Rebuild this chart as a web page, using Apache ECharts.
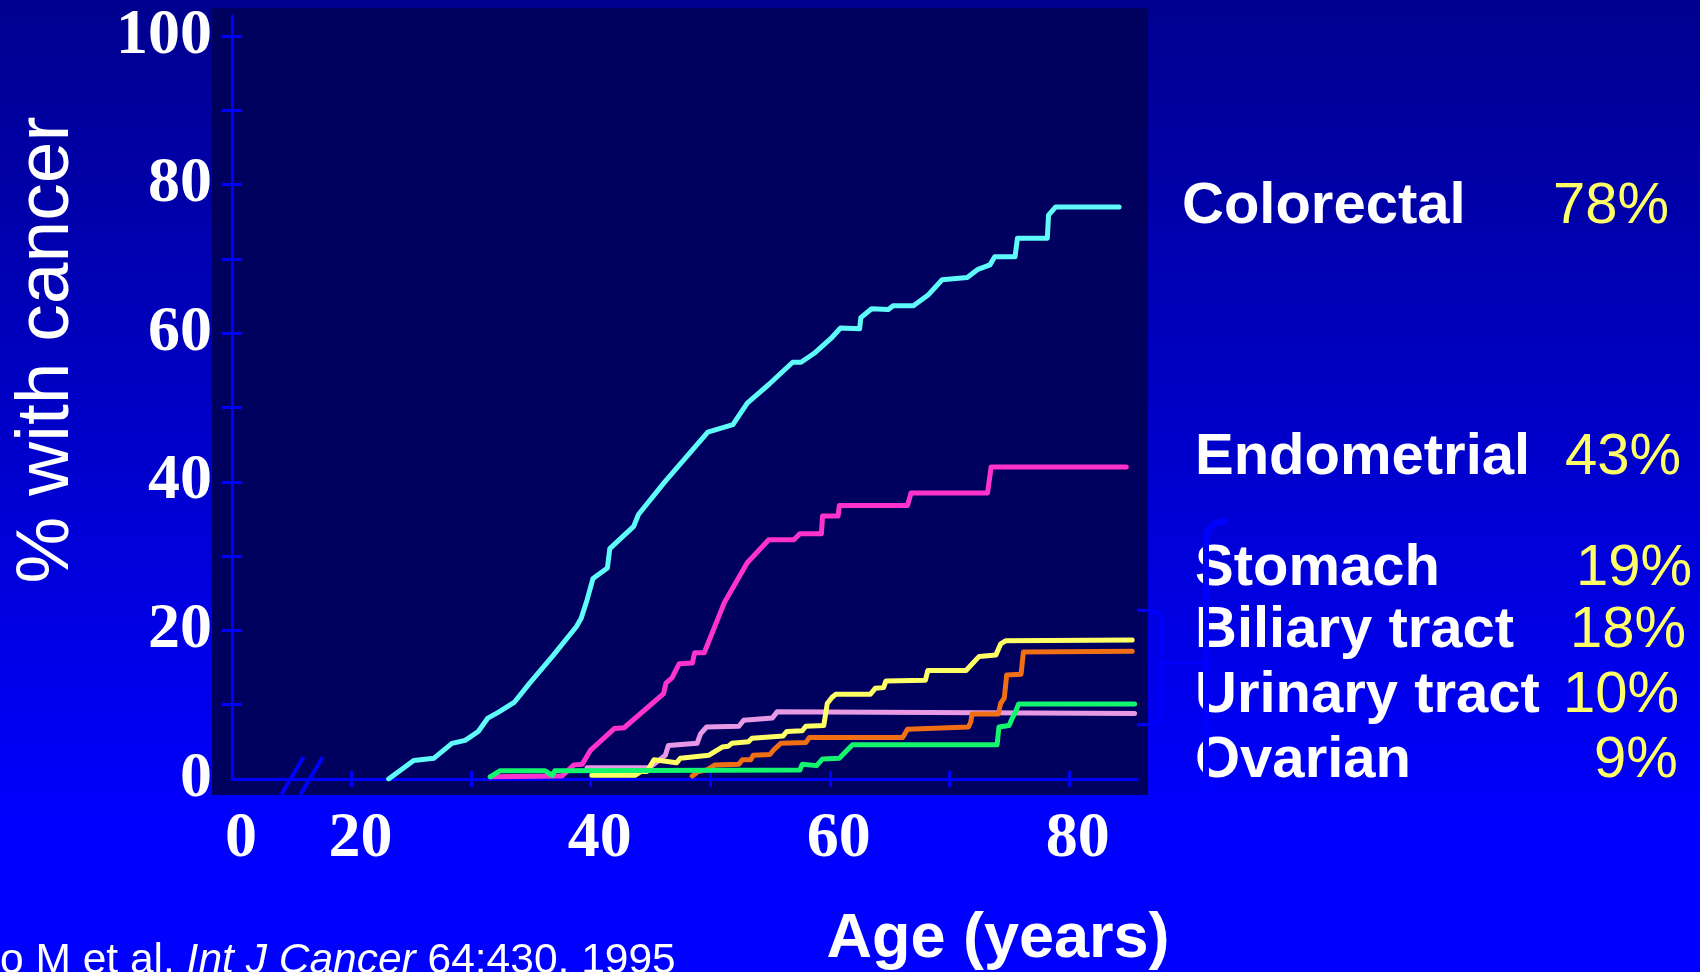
<!DOCTYPE html>
<html>
<head>
<meta charset="utf-8">
<title>Cumulative cancer risk by age</title>
<script src="https://cdn.jsdelivr.net/npm/echarts@6/dist/echarts.min.js"></script>
<style>
html, body { margin: 0; padding: 0; }
#main { width: 1700px; height: 972px; }
</style>
</head>
<body>
<div id="main"></div>
<script>
// [age (years), % with cancer]
var colorectal = [[23.1,0],[25.2,2.5],[26.9,2.8],[28.4,4.8],[29.5,5.2],[30.6,6.4],[31.4,8.2],[32.3,9.0],[33.6,10.3],[34.9,12.9],[36.8,16.5],[38.8,20.5],[39.2,21.6],[39.7,24.1],[40.2,27.0],[41.4,28.4],[41.6,31.0],[43.6,34.0],[44.0,35.6],[46.2,40.0],[48.3,43.9],[49.8,46.7],[51.9,47.7],[53.1,50.6],[54.9,53.1],[56.9,56.1],[57.6,56.1],[58.7,57.3],[60.1,59.3],[60.9,60.7],[62.5,60.6],[62.6,62.1],[63.5,63.3],[64.9,63.2],[65.3,63.7],[67.0,63.7],[68.2,65.1],[69.4,67.2],[71.5,67.5],[72.4,68.6],[73.4,69.2],[73.8,70.3],[75.5,70.3],[75.7,72.8],[78.2,72.8],[78.3,75.9],[78.9,77.0],[84.2,77.0]];
var endometrial = [[31.6,0.3],[37.6,0.4],[38.0,1.0],[38.6,1.9],[39.3,2.0],[40.0,3.9],[42.0,6.8],[42.8,6.9],[46.1,11.5],[46.3,12.9],[46.8,13.6],[47.4,15.5],[48.5,15.6],[48.7,17.0],[49.5,17.0],[51.2,23.8],[53.1,29.1],[54.9,32.2],[57.0,32.2],[57.5,33.0],[59.3,33.0],[59.4,35.4],[60.7,35.4],[60.8,36.8],[66.5,36.8],[66.8,38.5],[73.2,38.5],[73.5,42.0],[84.8,42.0]];
var stomach = [[40.1,0.5],[43.7,0.5],[44.2,1.0],[44.7,1.0],[45.3,2.6],[47.2,2.2],[47.5,2.8],[49.9,3.2],[51.0,4.3],[51.5,4.4],[51.8,4.8],[53.2,5.0],[53.5,5.5],[56.1,5.8],[56.4,6.4],[57.7,6.5],[58.0,7.1],[59.5,7.2],[59.8,10.2],[60.2,11.0],[60.5,11.4],[63.4,11.4],[63.8,12.2],[64.5,12.3],[64.7,13.2],[68.0,13.3],[68.2,14.6],[71.4,14.6],[72.5,16.5],[73.9,16.7],[74.3,18.2],[74.7,18.6],[85.3,18.7]];
var biliary = [[48.5,0.4],[49.0,1.0],[49.7,1.2],[50.4,1.9],[52.4,2.0],[52.7,2.6],[53.4,2.6],[53.6,3.2],[55.0,3.3],[55.3,3.9],[55.9,4.8],[58.0,4.9],[58.3,5.6],[66.1,5.6],[66.5,6.7],[71.6,7.0],[71.8,7.7],[71.9,8.75],[74.1,8.75],[74.3,10.2],[74.6,10.9],[74.8,14.0],[76.0,14.1],[76.2,17.1],[85.3,17.2]];
var urinary = [[31.6,0.3],[32.4,1.1],[36.2,1.1],[36.8,0.5],[37.0,1.1],[57.5,1.2],[57.7,2.0],[58.9,1.8],[59.4,2.7],[60.8,2.8],[61.9,4.6],[74.0,4.6],[74.15,7.0],[75.0,7.2],[75.3,8.3],[75.5,8.9],[75.8,10.1],[85.5,10.1]];
var ovarian = [[39.7,1.5],[44.9,1.5],[46.25,3.2],[46.5,4.5],[48.9,4.8],[49.2,6.1],[49.7,7.0],[52.4,7.1],[52.8,7.9],[55.2,8.2],[55.6,9.06],[85.5,8.8]];

var cancerNames = ['Colorectal', 'Endometrial', 'Stomach', 'Biliary tract', 'Urinary tract', 'Ovarian'];
var cancerRisk = ['78%', '43%', '19%', '18%', '10%', '9%'];

var xTickValues = [20, 30, 40, 50, 60, 70, 80];
var xLabelValues = [10, 20, 40, 60, 80];   // 10 is the broken-axis start, labelled "0"
var yTickValues = [10, 20, 30, 40, 50, 60, 70, 80, 90, 100];
var yLabelValues = [0, 20, 40, 60, 80, 100];
var axisBreakAges = [14.9, 16.5];

// layout of the side labels (pixels)
var nameX = [1182, 1195, 1195, 1195, 1195, 1195];
var riskX = [1553, 1565, 1576, 1570, 1563, 1594];
var rowBaseline = [227, 478, 589, 651, 716, 781];

var axisBlue = '#0000ff';
var numFont = '"Liberation Serif", "Times New Roman", serif';
var sansFont = '"Liberation Sans", Arial, sans-serif';

var chart = echarts.init(document.getElementById('main'));

function lineSeries(name, data, color) {
	return {
		name: name,
		type: 'line',
		data: data,
		showSymbol: false,
		symbol: 'none',
		silent: true,
		lineStyle: { width: 5, color: color, cap: 'round', join: 'round' },
		z: 3
	};
}

var graphics = [];
// slide background
graphics.push({
	type: 'rect', z: -20, silent: true,
	shape: { x: 0, y: 0, width: 1700, height: 972 },
	style: { fill: new echarts.graphic.LinearGradient(0, 0, 0, 1, [
		{ offset: 0, color: '#00008e' },
		{ offset: 0.85, color: '#0000ff' },
		{ offset: 1, color: '#0000ff' }
	]) }
});
// dark plot panel
graphics.push({
	type: 'rect', z: -10, silent: true,
	shape: { x: 212, y: 8, width: 936, height: 787 },
	style: { fill: '#00005f' }
});
// y axis title
graphics.push({
	type: 'text', x: 47, y: 350, rotation: Math.PI / 2, z: 50,
	style: { text: '% with cancer', fill: '#fff', font: '75px ' + sansFont,
		align: 'center', verticalAlign: 'middle', textAlign: 'center', textVerticalAlign: 'middle' }
});
// x axis title
graphics.push({
	type: 'text', x: 998, y: 940, z: 50,
	style: { text: 'Age (years)', fill: '#fff', font: 'bold 63px ' + sansFont,
		align: 'center', verticalAlign: 'middle', textAlign: 'center', textVerticalAlign: 'middle' }
});
// citation (runs off the left edge as in the slide)
graphics.push({
	type: 'text', x: 0, y: 961, z: 50,
	style: {
		text: '{n|o M et al. }{i|Int J Cancer}{n| 64:430, 1995}',
		align: 'left', verticalAlign: 'middle', textAlign: 'left', textVerticalAlign: 'middle',
		rich: {
			n: { fontSize: 42.5, fontFamily: sansFont, fill: '#fff', color: '#fff' },
			i: { fontSize: 42.5, fontFamily: sansFont, fontStyle: 'italic', fill: '#fff', color: '#fff' }
		}
	}
});
// side labels
for (var i = 0; i < cancerNames.length; i++) {
	var midY = rowBaseline[i] - 20;
	graphics.push({
		type: 'text', x: nameX[i], y: midY, z: 50,
		style: { text: cancerNames[i], fill: '#fff', font: 'bold 58px ' + sansFont,
			align: 'left', verticalAlign: 'middle', textAlign: 'left', textVerticalAlign: 'middle' }
	});
	graphics.push({
		type: 'text', x: riskX[i], y: midY, z: 50,
		style: { text: cancerRisk[i], fill: '#ffff66', font: '58px ' + sansFont,
			align: 'left', verticalAlign: 'middle', textAlign: 'left', textVerticalAlign: 'middle' }
	});
}
// bracket grouping the four small cancers
graphics.push({
	type: 'polyline', z: 60, silent: true,
	shape: { points: [[1137, 610], [1152, 611], [1159, 614], [1162, 621], [1162, 714], [1159, 721], [1152, 724], [1137, 725]] },
	style: { stroke: axisBlue, lineWidth: 3, fill: null }
});
graphics.push({
	type: 'line', z: 60, silent: true,
	shape: { x1: 1162, y1: 663, x2: 1204, y2: 663 },
	style: { stroke: axisBlue, lineWidth: 3 }
});
graphics.push({
	type: 'polyline', z: 60, silent: true,
	shape: { points: [[1227, 521], [1215, 523], [1208, 530], [1206, 542], [1206, 787]] },
	style: { stroke: axisBlue, lineWidth: 6, fill: null }
});

var numLabel = {
	color: '#fff',
	fontFamily: numFont,
	fontWeight: 'bold',
	fontSize: 64,
	textShadowColor: '#000',
	textShadowOffsetX: 2.5,
	textShadowOffsetY: 2.5,
	textShadowBlur: 0
};

var option = {
	animation: false,
	grid: { left: 232, right: 563, top: 16, bottom: 193 },
	xAxis: [{
		type: 'value',
		min: 10,
		max: 85.7,
		interval: 10,
		splitLine: { show: false },
		axisLine: { onZero: false, lineStyle: { color: axisBlue, width: 3 } },
		axisTick: { customValues: xTickValues, length: 8, lineStyle: { color: axisBlue, width: 3 } },
		axisLabel: echarts.util.extend({
			customValues: xLabelValues,
			formatter: function (v) { return v === 10 ? '0' : String(v); },
			margin: 28,
			padding: [0, 0, 0, 18]
		}, numLabel)
	}, {
		type: 'value',
		position: 'bottom',
		min: 10,
		max: 85.7,
		interval: 10,
		splitLine: { show: false },
		axisLine: { show: false, onZero: false },
		axisTick: { inside: true, customValues: xTickValues, length: 8, lineStyle: { color: axisBlue, width: 3 } },
		axisLabel: { show: false }
	}],
	yAxis: [{
		type: 'value',
		min: 0,
		max: 102.7,
		interval: 10,
		splitLine: { show: false },
		axisLine: { onZero: false, lineStyle: { color: axisBlue, width: 3 } },
		axisTick: { customValues: yTickValues, length: 10, lineStyle: { color: axisBlue, width: 3 } },
		axisLabel: echarts.util.extend({
			customValues: yLabelValues,
			margin: 20,
			padding: [7, 0, 0, 0]
		}, numLabel)
	}, {
		type: 'value',
		position: 'left',
		min: 0,
		max: 102.7,
		interval: 10,
		splitLine: { show: false },
		axisLine: { show: false, onZero: false },
		axisTick: { inside: true, customValues: yTickValues, length: 10, lineStyle: { color: axisBlue, width: 3 } },
		axisLabel: { show: false }
	}],
	series: [
		lineSeries('Ovarian', ovarian, '#e899e6'),
		lineSeries('Endometrial', endometrial, '#ff33cc'),
		lineSeries('Stomach', stomach, '#ffff66'),
		lineSeries('Biliary tract', biliary, '#f06e14'),
		lineSeries('Urinary tract', urinary, '#14f56e'),
		lineSeries('Colorectal', colorectal, '#5ffbfb')
	],
	graphic: { elements: graphics }
};

chart.setOption(option);

// axis break marks, placed on the x axis through the chart's scale
var breakMarks = [];
for (var b = 0; b < axisBreakAges.length; b++) {
	var p = chart.convertToPixel({ xAxisIndex: 0, yAxisIndex: 0 }, [axisBreakAges[b], 0]);
	breakMarks.push({
		type: 'line', z: 60, silent: true,
		shape: { x1: p[0] - 9.5, y1: p[1] + 16, x2: p[0] + 13, y2: p[1] - 22 },
		style: { stroke: axisBlue, lineWidth: 4 }
	});
}
chart.setOption({ graphic: { elements: graphics.concat(breakMarks) } }, { replaceMerge: ['graphic'] });
</script>
</body>
</html>
